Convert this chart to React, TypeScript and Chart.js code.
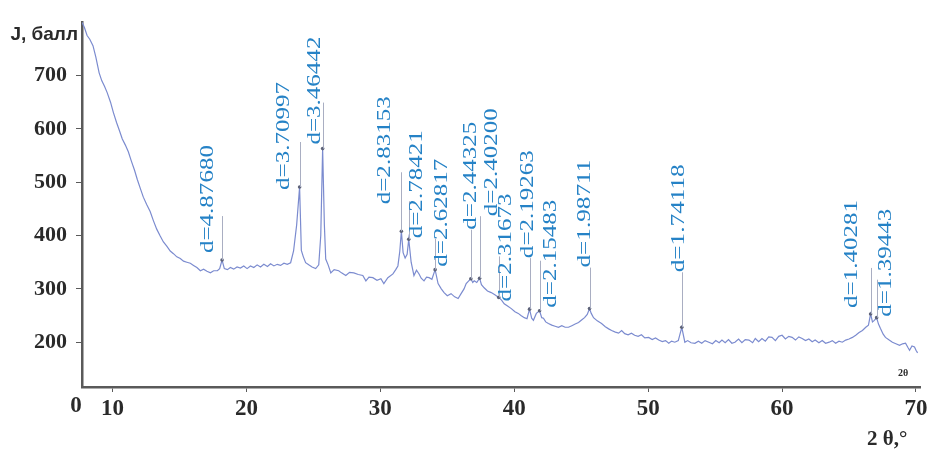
import React, { useEffect, useRef } from 'react';
import { Chart, registerables } from 'chart.js';

Chart.register(...registerables);

// Diffraction scan: 2θ (degrees) and intensity (counts)
const twoTheta = [
  7.72, 7.9, 8.1, 8.3, 8.54, 8.75, 9.0, 9.2, 9.4, 9.6, 9.85, 10.06, 10.3, 10.5, 10.73, 10.95,
  11.18, 11.4, 11.65, 11.85, 12.08, 12.3, 12.55, 12.81, 13.05, 13.3, 13.56, 13.8, 14.05, 14.31,
  14.55, 14.8, 15.06, 15.3, 15.55, 15.81, 16.05, 16.3, 16.56, 16.8, 17.05, 17.31, 17.55, 17.83,
  18.0, 18.18, 18.35, 18.58, 18.8, 19.05, 19.3, 19.55, 19.8, 20.05, 20.3, 20.55, 20.8, 21.05,
  21.3, 21.57, 21.8, 22.05, 22.3, 22.55, 22.8, 23.05, 23.3, 23.52, 23.75, 23.97, 24.1, 24.25,
  24.42, 24.65, 24.9, 25.17, 25.4, 25.55, 25.69, 25.82, 25.92, 26.1, 26.3, 26.55, 26.89, 27.1,
  27.42, 27.7, 28.02, 28.35, 28.69, 28.92, 29.15, 29.44, 29.75, 30.04, 30.26, 30.56, 30.94,
  31.15, 31.31, 31.45, 31.57, 31.7, 31.85, 32.0, 32.12, 32.3, 32.51, 32.7, 32.89, 33.05, 33.26,
  33.45, 33.64, 33.85, 34.09, 34.31, 34.55, 34.76, 35.0, 35.28, 35.55, 35.81, 36.03, 36.25,
  36.41, 36.6, 36.76, 36.9, 37.01, 37.2, 37.41, 37.55, 37.75, 38.0, 38.28, 38.55, 38.84, 39.05,
  39.25, 39.5, 39.78, 40.05, 40.3, 40.5, 40.75, 40.95, 41.14, 41.3, 41.43, 41.65, 41.89, 42.05,
  42.18, 42.35, 42.55, 42.8, 43.05, 43.3, 43.55, 43.8, 44.05, 44.3, 44.55, 44.8, 45.05, 45.25,
  45.45, 45.62, 45.75, 45.92, 46.2, 46.52, 46.8, 47.05, 47.27, 47.55, 47.79, 48.02, 48.25, 48.5,
  48.75, 48.99, 49.25, 49.5, 49.75, 50.04, 50.3, 50.55, 50.79, 51.05, 51.3, 51.54, 51.75, 51.99,
  52.25, 52.51, 52.74, 52.95, 53.2, 53.49, 53.75, 54.0, 54.25, 54.53, 54.8, 55.05, 55.3, 55.51,
  55.75, 56.0, 56.25, 56.48, 56.75, 57.0, 57.25, 57.53, 57.8, 58.0, 58.25, 58.5, 58.75, 59.0,
  59.25, 59.5, 59.75, 60.0, 60.25, 60.5, 60.75, 61.0, 61.25, 61.5, 61.75, 62.0, 62.25, 62.47,
  62.75, 63.0, 63.25, 63.52, 63.75, 64.0, 64.25, 64.5, 64.75, 65.0, 65.25, 65.5, 65.75, 66.0,
  66.25, 66.45, 66.61, 66.75, 66.89, 67.06, 67.2, 67.34, 67.55, 67.72, 68.0, 68.24, 68.5, 68.77,
  69.0, 69.22, 69.4, 69.52, 69.7, 69.89, 70.0, 70.12,
];

const intensity = [
  800, 790, 775, 768, 756, 735, 705, 690, 680, 668, 650, 631, 612, 598, 581, 570,
  557, 540, 522, 505, 488, 472, 458, 445, 428, 412, 399, 388, 380, 371,
  366, 360, 357, 352, 350, 348, 344, 340, 334, 337, 333, 330, 334, 334,
  338, 354, 338, 336, 340, 337, 341, 339, 343, 338, 343, 340, 345, 341,
  346, 342, 347, 343, 346, 344, 348, 346, 349, 371, 420, 491, 372, 360,
  349, 345, 341, 338, 345, 400, 563, 420, 356, 345, 330, 336, 334, 330,
  325, 331, 330, 327, 325, 315, 322, 321, 316, 319, 310, 321, 328,
  336, 343, 370, 408, 368, 358, 365, 393, 350, 325, 335, 328, 320, 315,
  322, 321, 318, 336, 310, 300, 293, 287, 291, 285, 282, 291, 300,
  310, 315, 319, 312, 315, 312, 320, 308, 302, 296, 293, 289, 284, 279,
  272, 268, 263, 257, 254, 250, 246, 244, 262, 245, 241, 254, 259, 246,
  245, 238, 235, 232, 230, 228, 231, 228, 228, 231, 234, 237, 242, 246,
  252, 263, 254, 246, 240, 235, 229, 225, 222, 219, 217, 222, 216, 214,
  217, 213, 211, 214, 208, 209, 205, 208, 204, 201, 203, 198, 202, 200,
  203, 228, 200, 203, 199, 198, 202, 198, 203, 200, 197, 203, 199, 204,
  199, 205, 198, 200, 206, 199, 205, 204, 199, 207, 201, 207, 202, 210,
  209, 203, 211, 213, 206, 211, 209, 204, 210, 207, 203, 206, 201, 204,
  199, 203, 198, 200, 203, 198, 202, 200, 204, 206, 209, 213, 218, 222,
  228, 232, 253, 238, 241, 246, 234, 226, 215, 209, 204, 200, 197, 194,
  197, 198, 190, 185, 193, 191, 185, 180,
];

// Indexed reflections
const peakTwoTheta = [18.18, 23.97, 25.69, 31.57, 32.12, 34.09, 36.76, 37.41, 38.84, 41.14, 41.89, 45.62, 52.51, 66.61, 67.06];
const peakIntensity = [354, 491, 563, 408, 393, 336, 319, 320, 284, 262, 259, 263, 228, 253, 246];
const peakLabels = [
  'd=4.87680', 'd=3.70997', 'd=3.46442', 'd=2.83153', 'd=2.78421', 'd=2.62817', 'd=2.44325',
  'd=2.40200', 'd=2.31673', 'd=2.19263', 'd=2.15483', 'd=1.98711', 'd=1.74118', 'd=1.40281', 'd=1.39443',
];

const xTicks = [10, 20, 30, 40, 50, 60, 70];
const yTicks = [200, 300, 400, 500, 600, 700];

// Label layout (pixels): text centre offset from the leader, lift of text start above the marker, leader length
const labelDx = [-14, -16, -8, -16, 8, 7, 0, 12, 7, -2, 11, -5, -3, -19, 9];
const labelLift = [7, -3, 4, 27, 1, 3, 49, 62, -4, 51, 3, 41, 55, 6, 1];
const leaderLen = [44, 45, 46, 59, 38, 31, 49, 62, 41, 51, 50, 41, 55, 46, 38];

const AXIS_COLOR = '#5a5a5a';
const TICK_COLOR = '#2a2a2a';
const LABEL_COLOR = '#2582c6';
const SERIF = '"Liberation Serif", "DejaVu Serif", serif';

const annotations = {
  id: 'annotations',
  afterDatasetsDraw(chart: any) {
    const { ctx, scales } = chart;
    const x = scales.x;
    const y = scales.y;
    ctx.save();
    peakTwoTheta.forEach((t, i) => {
      const px = Math.round(x.getPixelForValue(t)) + 0.5;
      const py = y.getPixelForValue(peakIntensity[i]);
      ctx.strokeStyle = '#a9aec2';
      ctx.lineWidth = 1;
      ctx.beginPath();
      ctx.moveTo(px, py);
      ctx.lineTo(px, py - leaderLen[i]);
      ctx.stroke();

      ctx.save();
      ctx.translate(px + labelDx[i], py - labelLift[i]);
      ctx.rotate(-Math.PI / 2);
      ctx.font = `18px ${SERIF}`;
      const w = ctx.measureText(peakLabels[i]).width;
      ctx.scale(108 / w, 1);
      ctx.fillStyle = LABEL_COLOR;
      ctx.textAlign = 'left';
      ctx.textBaseline = 'middle';
      ctx.fillText(peakLabels[i], 0, 0);
      ctx.restore();
    });
    ctx.restore();
  },
  afterDraw(chart: any) {
    const { ctx, chartArea } = chart;
    ctx.save();
    ctx.fillStyle = TICK_COLOR;
    // y-axis title
    ctx.font = 'bold 19px "Liberation Sans", Arial, sans-serif';
    ctx.textAlign = 'right';
    ctx.textBaseline = 'alphabetic';
    ctx.fillText('J, балл', chartArea.left - 4, 40);
    // origin mark
    ctx.font = `bold 23px ${SERIF}`;
    ctx.textAlign = 'center';
    ctx.fillText('0', chartArea.left - 6, 412);
    // x-axis title
    ctx.font = `bold 21px ${SERIF}`;
    ctx.textAlign = 'left';
    ctx.fillText('2 θ,°', 867, 445);
    // small end-of-scan mark
    ctx.font = `bold 10px ${SERIF}`;
    ctx.fillText('2θ', 898, 376);
    ctx.restore();
  },
};

export default function App() {
  const canvasRef = useRef<HTMLCanvasElement | null>(null);

  useEffect(() => {
    const canvas = canvasRef.current;
    if (!canvas) return;
    const chart = new Chart(canvas, {
      type: 'line',
      data: {
        datasets: [
          {
            data: twoTheta.map((t, i) => ({ x: t, y: intensity[i] })),
            borderColor: '#7b8bcf',
            borderWidth: 1.2,
            pointRadius: 0,
            tension: 0,
            order: 2,
          },
          {
            data: peakTwoTheta.map((t, i) => ({ x: t, y: peakIntensity[i] })),
            showLine: false,
            pointRadius: 1.8,
            pointBackgroundColor: '#5d6278',
            pointBorderWidth: 0,
            order: 1,
          },
        ],
      },
      options: {
        animation: false,
        responsive: false,
        layout: { padding: { left: 0, top: 19, right: 14, bottom: 0 } },
        plugins: {
          legend: { display: false },
          tooltip: { enabled: false },
        },
        scales: {
          x: {
            type: 'linear',
            min: 7.72,
            max: 70.3,
            afterBuildTicks: (scale: any) => {
              scale.ticks = xTicks.map((v) => ({ value: v }));
            },
            afterFit: (scale: any) => {
              scale.height = 65;
            },
            grid: { display: true, drawOnChartArea: false, drawTicks: true, tickLength: 5, color: AXIS_COLOR },
            border: { display: true, color: AXIS_COLOR, width: 2.5 },
            ticks: {
              color: TICK_COLOR,
              padding: 3,
              maxRotation: 0,
              font: { family: SERIF, size: 23, weight: 'bold' },
            },
          },
          y: {
            type: 'linear',
            min: 116,
            max: 800,
            afterBuildTicks: (scale: any) => {
              scale.ticks = yTicks.map((v) => ({ value: v }));
            },
            afterFit: (scale: any) => {
              scale.width = 82;
            },
            grid: { display: true, drawOnChartArea: false, drawTicks: true, tickLength: 6, color: AXIS_COLOR },
            border: { display: true, color: AXIS_COLOR, width: 2.5 },
            ticks: {
              color: TICK_COLOR,
              padding: 9,
              font: { family: SERIF, size: 22, weight: 'bold' },
            },
          },
        },
      },
      plugins: [annotations],
    });
    return () => chart.destroy();
  }, []);

  return (
    <div style={{ position: 'fixed', left: 0, top: 0, width: 934, height: 452, background: '#fff' }}>
      <canvas ref={canvasRef} width={934} height={452} style={{ display: 'block' }} />
    </div>
  );
}
